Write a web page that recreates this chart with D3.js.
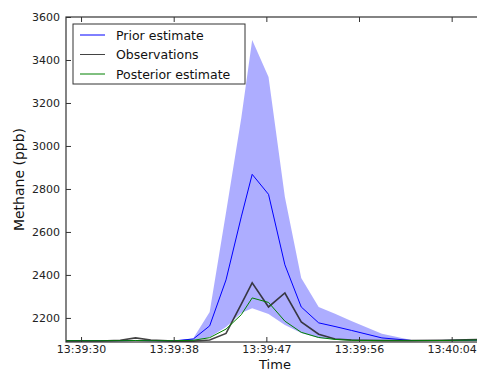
<!DOCTYPE html>
<html><head><meta charset="utf-8">
<script src="https://cdn.jsdelivr.net/npm/d3@7"></script>
<style>body{margin:0;background:#fff}svg{display:block}</style>
</head><body>
<script>
// seconds after 13:39:00
const times = [28.6, 31.8, 33.6, 35.0, 36.4, 38.5, 40.3, 41.8, 43.3, 44.7, 45.7, 47.2, 48.7, 50.2, 51.8, 53.3, 54.8, 57.6, 60.3, 63.1, 66.6];
const prior = [2094, 2094, 2094, 2095, 2094, 2093, 2102, 2163, 2377, 2670, 2868, 2775, 2447, 2251, 2177, 2160, 2142, 2107, 2095, 2095, 2097];
const priorUpper = [2095, 2095, 2095, 2096, 2095, 2094, 2105, 2228, 2690, 3130, 3493, 3321, 2763, 2386, 2251, 2219, 2186, 2126, 2097, 2096, 2098];
const priorLower = [2093, 2093, 2093, 2094, 2093, 2092, 2093, 2110, 2158, 2223, 2245, 2218, 2167, 2130, 2107, 2100, 2097, 2094, 2094, 2094, 2095];
const observations = [2093, 2093, 2096, 2107, 2097, 2092, 2092, 2097, 2128, 2264, 2363, 2251, 2316, 2181, 2124, 2102, 2097, 2095, 2095, 2096, 2100];
const posterior = [2094, 2094, 2094, 2095, 2094, 2094, 2096, 2108, 2148, 2215, 2293, 2272, 2185, 2133, 2109, 2100, 2096, 2094, 2094, 2095, 2097];
const xTickValues = [30, 38.5, 47, 55.5, 64];
const xTickLabels = ["13:39:30", "13:39:38", "13:39:47", "13:39:56", "13:40:04"];
const yTicks = [2200, 2400, 2600, 2800, 3000, 3200, 3400, 3600];
const legendLabels = ["Prior estimate", "Observations", "Posterior estimate"];
const colors = ["#0000ff", "#222222", "#008000"];

const W = 477, H = 370;
const m = {left: 66, top: 17, right: -3, bottom: 28};
const iw = W - m.left - m.right, ih = H - m.top - m.bottom;

const svg = d3.select("body").append("svg").attr("width", W).attr("height", H);
const x = d3.scaleLinear().domain([28.62, 66.6]).range([0, iw]);
const y = d3.scaleLinear().domain([2088, 3600]).range([ih, 0]);

const g = svg.append("g").attr("transform", `translate(${m.left},${m.top})`);
g.append("clipPath").attr("id", "clip").append("rect").attr("width", iw).attr("height", ih);
const plot = g.append("g").attr("clip-path", "url(#clip)");

const idx = d3.range(times.length);
plot.append("path")
  .attr("d", d3.area().x(i => x(times[i])).y0(i => y(priorLower[i])).y1(i => y(priorUpper[i]))(idx))
  .attr("fill", "#0000ff").attr("fill-opacity", 0.32).attr("stroke", "none");

const line = arr => d3.line().x(i => x(times[i])).y(i => y(arr[i]))(idx);
plot.append("path").attr("d", line(prior)).attr("fill", "none").attr("stroke", colors[0]).attr("stroke-width", 1);
plot.append("path").attr("d", line(observations)).attr("fill", "none").attr("stroke", colors[1]).attr("stroke-opacity", 0.85).attr("stroke-width", 1.6);
plot.append("path").attr("d", line(posterior)).attr("fill", "none").attr("stroke", colors[2]).attr("stroke-width", 1);

// axes
const fontFam = "'DejaVu Sans', sans-serif";
const yAxis = g.append("g").call(d3.axisLeft(y).tickValues(yTicks).tickSizeInner(-5).tickSizeOuter(0).tickPadding(6).tickFormat(d3.format("d")));
const xAxis = g.append("g").attr("transform", `translate(0,${ih})`)
  .call(d3.axisBottom(x).tickValues(xTickValues).tickSizeInner(-5).tickSizeOuter(0).tickPadding(3).tickFormat((d, i) => xTickLabels[i]));
const xTop = g.append("g").call(d3.axisTop(x).tickValues(xTickValues).tickSizeInner(-5).tickSizeOuter(0).tickFormat(""));
[yAxis, xAxis, xTop].forEach(a => {
  a.select(".domain").remove();
  a.selectAll(".tick line").attr("stroke", "#333");
  a.selectAll("text").attr("font-family", fontFam).attr("font-size", 11).attr("fill", "#222");
});
// spines
g.append("rect").attr("x", 0).attr("y", 0).attr("width", iw).attr("height", ih)
  .attr("fill", "none").attr("stroke", "#333").attr("stroke-width", 1.2);

// axis titles
svg.append("text").attr("transform", `translate(24,${m.top + ih / 2}) rotate(-90)`)
  .attr("text-anchor", "middle").attr("font-family", fontFam).attr("font-size", 14).attr("fill", "#111")
  .text("Methane (ppb)");
svg.append("text").attr("x", 275).attr("y", 368.5)
  .attr("text-anchor", "middle").attr("font-family", fontFam).attr("font-size", 13).attr("fill", "#111")
  .text("Time");

// legend
const lg = svg.append("g").attr("transform", "translate(73,24)");
lg.append("rect").attr("width", 172).attr("height", 60).attr("fill", "#fff").attr("stroke", "#333").attr("stroke-width", 1);
legendLabels.forEach((lab, i) => {
  const cy = 11 + i * 19.5;
  lg.append("line").attr("x1", 7).attr("x2", 32).attr("y1", cy).attr("y2", cy)
    .attr("stroke", colors[i]).attr("stroke-width", 1).attr("stroke-opacity", i === 1 ? 0.85 : 1);
  lg.append("text").attr("x", 43).attr("y", cy + 4.5).attr("font-family", fontFam).attr("font-size", 12.5).attr("fill", "#111").text(lab);
});
</script>
</body></html>
